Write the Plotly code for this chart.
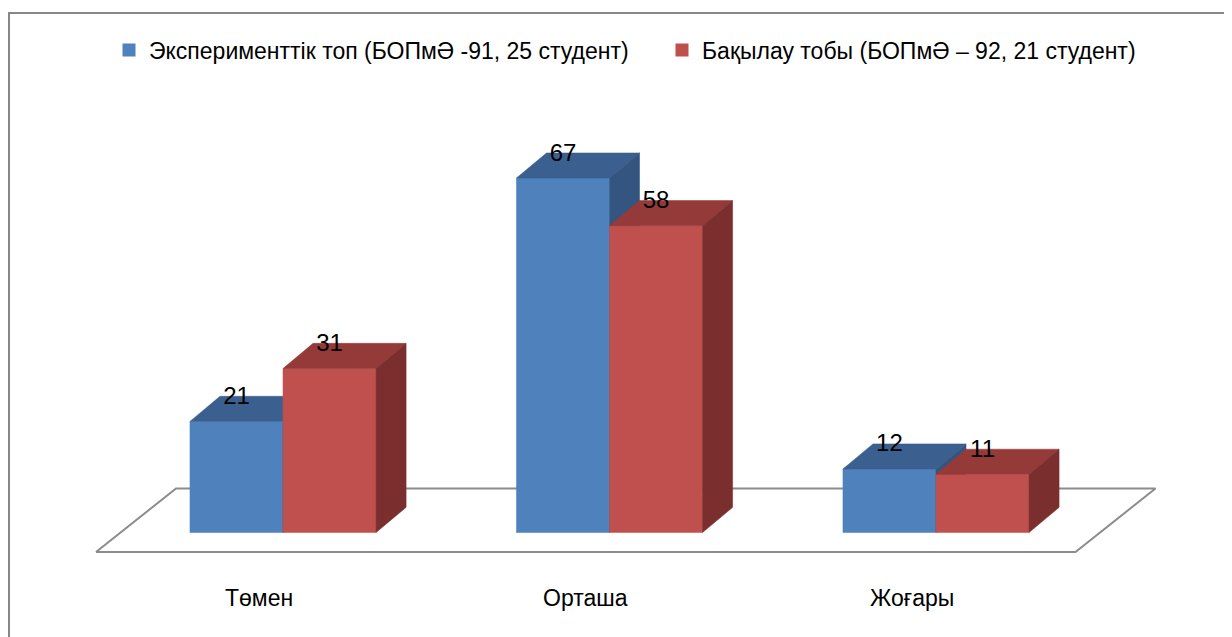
import plotly.graph_objects as go

# ---- data ----
categories = ["Төмен", "Орташа", "Жоғары"]
series_names = ["Эксперименттік топ (БОПмӘ -91, 25 студент)",
                "Бақылау тобы (БОПмӘ – 92, 21 студент)"]
exp_values = [21, 67, 12]
ctrl_values = [31, 58, 11]

# ---- style / geometry constants ----
FONT = "Liberation Sans, Arial, sans-serif"
W, H = 1232, 637
BAR_W = 0.285          # bar width in category units
DX, DY = 0.092, 4.75   # 3D depth offset (x in category units, y in value units)
X_RANGE = [-0.8423, 2.9311]
Y_RANGE = [-21.27, 99.15]
FLOOR_FRONT_Y, FLOOR_BACK_Y = -3.69, 8.32
FLOOR_LEFT = -0.5727
FLOOR_DEPTH_X = 0.245

colors = {
    "exp": {"front": "#4F81BD", "top": "#3B5F8E", "side": "#33557F"},
    "ctrl": {"front": "#C0504D", "top": "#943A38", "side": "#7A2E2D"},
}

fig = go.Figure()

# floor (parallelogram)
n = len(categories)
fx = [FLOOR_LEFT, FLOOR_LEFT + n, FLOOR_LEFT + n + FLOOR_DEPTH_X, FLOOR_LEFT + FLOOR_DEPTH_X, FLOOR_LEFT]
fy = [FLOOR_FRONT_Y, FLOOR_FRONT_Y, FLOOR_BACK_Y, FLOOR_BACK_Y, FLOOR_FRONT_Y]
fig.add_trace(go.Scatter(x=fx, y=fy, mode="lines", fill="toself", fillcolor="white",
                         line=dict(color="#8C8C8C", width=2), showlegend=False, hoverinfo="skip"))


def faces(values, offset):
    fr_x, fr_y, tp_x, tp_y, sd_x, sd_y = [], [], [], [], [], []
    for i, v in enumerate(values):
        x0 = i + offset
        x1 = x0 + BAR_W
        fr_x += [x0, x1, x1, x0, x0, None]
        fr_y += [0, 0, v, v, 0, None]
        tp_x += [x0, x1, x1 + DX, x0 + DX, x0, None]
        tp_y += [v, v, v + DY, v + DY, v, None]
        sd_x += [x1, x1 + DX, x1 + DX, x1, x1, None]
        sd_y += [0, DY, v + DY, v, 0, None]
    return (fr_x, fr_y), (tp_x, tp_y), (sd_x, sd_y)


for key, vals, off in [("exp", exp_values, -BAR_W), ("ctrl", ctrl_values, 0.0)]:
    fr, tp, sd = faces(vals, off)
    for (xx, yy), part in [(fr, "front"), (tp, "top"), (sd, "side")]:
        c = colors[key][part]
        fig.add_trace(go.Scatter(x=xx, y=yy, mode="lines", fill="toself", fillcolor=c,
                                 line=dict(color=c, width=0.5), showlegend=False,
                                 hoverinfo="skip"))

# data labels
for vals, off in [(exp_values, -BAR_W / 2), (ctrl_values, BAR_W / 2)]:
    fig.add_trace(go.Scatter(
        x=[i + off for i in range(n)], y=[v + DY - 0.3 for v in vals],
        mode="text", text=[str(v) for v in vals], textposition="middle center",
        textfont=dict(family=FONT, size=24, color="#000000"),
        showlegend=False, hoverinfo="skip"))

# legend entries
for name, key in zip(series_names, ["exp", "ctrl"]):
    fig.add_trace(go.Scatter(x=[None], y=[None], mode="markers", name=name,
                             marker=dict(symbol="square", size=13,
                                         color=colors[key]["front"], line=dict(width=0))))

# category labels
for i, c in enumerate(categories):
    fig.add_annotation(x=FLOOR_LEFT + 0.5 + i, y=-12.4, text=c, showarrow=False,
                       xanchor="center", yanchor="middle",
                       font=dict(family=FONT, size=23, color="#000000"))

# outer frame
fig.add_shape(type="rect", xref="paper", yref="paper",
              x0=1 / W, x1=1.02, y0=-0.02, y1=1 - 5 / H,
              line=dict(color="#878787", width=2), fillcolor="rgba(0,0,0,0)")

fig.update_layout(
    width=W, height=H,
    margin=dict(l=0, r=0, t=0, b=0),
    paper_bgcolor="white", plot_bgcolor="white",
    xaxis=dict(range=X_RANGE, visible=False, fixedrange=True),
    yaxis=dict(range=Y_RANGE, visible=False, fixedrange=True),
    showlegend=True,
    legend=dict(orientation="h", x=101 / W, xanchor="left", y=1 - 42 / H, yanchor="middle",
                font=dict(family=FONT, size=23, color="#000000"),
                entrywidth=508, entrywidthmode="pixels",
                bgcolor="rgba(0,0,0,0)", borderwidth=0),
)

fig.write_html("out.html")
